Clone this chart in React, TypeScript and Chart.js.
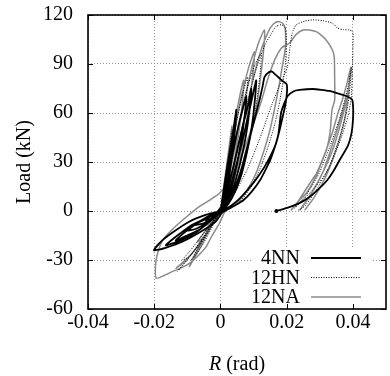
import React, { useEffect, useRef } from "react";
import { Chart, registerables } from "chart.js";

Chart.register(...registerables);

const xTicks = [-0.04, -0.02, 0, 0.02, 0.04];
const yTicks = [-60, -30, 0, 30, 60, 90, 120];
const seriesNames = ["4NN", "12HN", "12NA"];

// [R (rad), Load (kN)]
const curve4NN: [number, number][] = [
  [0, 0], [0.0008, 8], [0.0015, 17], [0.002, 24], [0.0017, 17], [0.001, 8], [0.0003, 2], [-0.001, -1], [-0.0025, -3], [-0.0015, -3], [-0.0005, -1], [0, 0],
  [0.0008, 10], [0.0018, 24], [0.0028, 36], [0.0035, 45], [0.0031, 35], [0.0022, 20], [0.0012, 8], [0.0002, 1], [-0.002, -2], [-0.0045, -5.5], [-0.003, -5], [-0.001, -2], [0.0003, 0],
  [0.0012, 12], [0.0025, 30], [0.0038, 48], [0.0048, 62], [0.0045, 52], [0.0036, 36], [0.0024, 18], [0.001, 5], [-0.001, -0.5], [-0.004, -3.5], [-0.0075, -8.5], [-0.005, -7.5], [-0.0025, -4.5], [0, -0.5],
  [0.0015, 12], [0.0032, 30], [0.0052, 50], [0.0068, 63], [0.0078, 70], [0.0073, 58], [0.0062, 42], [0.0045, 24], [0.0025, 9], [0.0005, 1], [-0.003, -3], [-0.006, -6], [-0.01, -12], [-0.0075, -11], [-0.004, -7], [-0.001, -2.5], [0.0005, 0],
  [0.002, 12], [0.004, 28], [0.0065, 50], [0.0085, 66], [0.0093, 75], [0.0088, 62], [0.0076, 45], [0.0058, 28], [0.0035, 12], [0.0012, 2], [-0.003, -3.5], [-0.008, -8.5], [-0.0135, -18], [-0.01, -15], [-0.006, -11], [-0.0025, -5], [0, -0.5],
  [0.0022, 10], [0.0045, 26], [0.007, 46], [0.009, 64], [0.0102, 75], [0.0108, 80], [0.0104, 68], [0.0095, 52], [0.008, 36], [0.006, 20], [0.0035, 8], [0.001, 1], [-0.004, -4], [-0.009, -9], [-0.0165, -21], [-0.012, -18], [-0.007, -12.5], [-0.003, -6], [0, -0.5],
  [0.002, 5], [0.0045, 15], [0.0065, 27], [0.0078, 37], [0.0095, 50], [0.0108, 60], [0.0118, 68], [0.0127, 76], [0.0133, 82], [0.0145, 84.8], [0.0156, 85.3], [0.0166, 83.5], [0.0175, 81.9], [0.0188, 79.5], [0.02, 77.6], [0.0201, 73], [0.0196, 65], [0.0188, 57.7], [0.0178, 49], [0.0168, 41.4], [0.0152, 34], [0.0133, 27], [0.0108, 19.5], [0.0082, 12.9], [0.006, 8], [0.0042, 4.7], [0.0015, 1], [-0.0015, -0.8], [-0.0045, -2.4], [-0.0096, -6.7], [-0.0147, -13.5], [-0.0178, -18.5], [-0.0201, -24], [-0.0185, -23.6], [-0.0166, -22.6], [-0.0117, -19], [-0.0066, -13.5], [-0.0015, -6.7], [0.0005, -1],
  [0.0018, 0.6], [0.0045, 3.5], [0.007, 6.7], [0.0095, 12], [0.012, 19], [0.0138, 26], [0.015, 31], [0.0164, 39], [0.0175, 47], [0.0183, 60], [0.0193, 66], [0.0203, 70.4], [0.022, 73.2], [0.0239, 74.1], [0.0279, 74.7], [0.0305, 74.2], [0.0329, 73.5], [0.0355, 72], [0.038, 70.4], [0.0398, 68], [0.0401, 62], [0.04, 55], [0.0396, 47.8], [0.0385, 40], [0.036, 31.2], [0.034, 24], [0.0323, 19], [0.0297, 13.5], [0.0269, 8.6], [0.024, 5], [0.0208, 2.4], [0.0169, 0],
];

const curve12HN: [number, number][] = [
  [0, 0], [0.001, 14], [0.002, 28], [0.003, 42], [0.0036, 50], [0.0033, 40], [0.0026, 26], [0.0016, 12], [0.0006, 3], [-0.001, -2], [-0.003, -8], [-0.0045, -12], [-0.003, -10], [-0.0012, -5], [0, -1],
  [0.0014, 14], [0.003, 34], [0.0048, 54], [0.0065, 70], [0.0082, 82], [0.0078, 68], [0.0068, 50], [0.0052, 32], [0.0032, 15], [0.0012, 4], [-0.001, -3], [-0.0035, -12], [-0.0065, -22], [-0.0088, -30], [-0.0075, -27], [-0.0052, -20], [-0.0028, -11], [-0.0008, -3], [0.0003, 0],
  [0.0018, 14], [0.0038, 35], [0.006, 58], [0.0085, 78], [0.0105, 90], [0.0123, 96.5], [0.012, 85], [0.011, 68], [0.0092, 48], [0.007, 28], [0.0045, 12], [0.002, 3], [0, 0], [-0.003, -9], [-0.0065, -20], [-0.01, -30], [-0.013, -37], [-0.0118, -34], [-0.009, -27], [-0.006, -19], [-0.003, -9], [-0.0005, -1],
  [0.0025, 14], [0.005, 36], [0.0075, 60], [0.0105, 85], [0.0135, 102], [0.0155, 109], [0.0168, 113], [0.0185, 114], [0.0196, 112], [0.0199, 104], [0.0197, 92], [0.019, 80], [0.018, 68], [0.0165, 54], [0.0145, 40], [0.012, 26], [0.009, 14], [0.006, 6], [0.003, 1.5], [0.0005, 0], [-0.0025, -7], [-0.006, -16], [-0.009, -24], [-0.0115, -30], [-0.0095, -28], [-0.0065, -21], [-0.0035, -12], [-0.001, -3],
  [0.004, 10], [0.008, 25], [0.012, 45], [0.0155, 65], [0.0185, 80], [0.0202, 88], [0.021, 100], [0.0217, 109], [0.0229, 114], [0.0255, 116.3], [0.0279, 117], [0.031, 116.5], [0.0339, 114.9], [0.0354, 111.9], [0.0372, 111], [0.039, 110.8], [0.04, 109.8], [0.04, 100], [0.0399, 89], [0.0395, 69], [0.0385, 58], [0.0365, 45], [0.035, 37], [0.0319, 23], [0.0269, 10.8], [0.0224, 1.8],
  [0.026, 10], [0.03, 24], [0.0335, 42], [0.0365, 60], [0.0385, 76], [0.0396, 88], [0.0385, 65], [0.036, 45], [0.033, 28], [0.029, 13], [0.0255, 3], [0.0235, 0.6],
];

const curve12NA: [number, number][] = [
  [0, 0], [0.001, 15], [0.002, 30], [0.003, 45], [0.0035, 52], [0.0032, 42], [0.0025, 28], [0.0015, 14], [0.0005, 4], [-0.001, -1], [-0.003, -5], [-0.005, -9], [-0.0035, -8], [-0.0015, -4], [0, -0.5],
  [0.0012, 14], [0.0028, 35], [0.0045, 56], [0.006, 72], [0.007, 80], [0.0067, 68], [0.0058, 52], [0.0045, 34], [0.003, 18], [0.0015, 6], [0, 0], [-0.002, -5], [-0.0045, -12], [-0.007, -19], [-0.0055, -17], [-0.003, -10], [-0.001, -3], [0.0003, 0],
  [0.0015, 15], [0.0035, 40], [0.0055, 62], [0.0075, 80], [0.009, 91], [0.0103, 97.5], [0.0099, 86], [0.009, 70], [0.0075, 50], [0.0055, 30], [0.003, 12], [0.001, 3], [-0.001, -3], [-0.003, -10], [-0.006, -20], [-0.0094, -34], [-0.0082, -30], [-0.006, -22], [-0.0035, -12], [-0.0012, -4], [0.0005, 1],
  [0.002, 15], [0.0045, 40], [0.007, 65], [0.0095, 88], [0.0115, 103], [0.0133, 110.8], [0.0131, 100], [0.0123, 85], [0.011, 65], [0.009, 45], [0.0065, 25], [0.0035, 9], [0.001, 1], [-0.002, -6], [-0.005, -16], [-0.009, -27], [-0.0134, -35], [-0.012, -33], [-0.009, -27], [-0.0055, -18], [-0.0025, -8], [0, -1],
  [0.0025, 12], [0.005, 35], [0.0075, 60], [0.01, 82], [0.0125, 100], [0.0145, 110], [0.016, 114.5], [0.0175, 116], [0.0188, 115], [0.0195, 112], [0.0197, 105], [0.0195, 98], [0.0188, 90], [0.0178, 78], [0.0165, 64], [0.015, 50], [0.013, 36], [0.0105, 22], [0.0075, 11], [0.0045, 4], [0.0015, 0], [-0.0003, -7.5], [-0.0025, -15], [-0.0043, -21.8], [-0.0068, -27.5], [-0.0094, -32], [-0.012, -35], [-0.0144, -37], [-0.017, -39.5], [-0.0194, -41.2], [-0.0196, -33], [-0.019, -26], [-0.0175, -18], [-0.0147, -11.6], [-0.0105, -4], [-0.0066, 2.4], [-0.003, 7], [-0.0003, 10.8],
  [0.003, 20], [0.006, 32], [0.009, 48], [0.012, 65], [0.0145, 82], [0.0165, 93], [0.0185, 100], [0.0208, 102.7], [0.0228, 108], [0.0249, 110.8], [0.0268, 110.8], [0.0289, 109.8], [0.0305, 107.5], [0.0319, 104.7], [0.0333, 100.6], [0.0341, 97], [0.0344, 93.5], [0.0345, 80], [0.0345, 68], [0.0337, 62], [0.0331, 48], [0.0321, 38], [0.0308, 31], [0.0293, 23], [0.0278, 17], [0.026, 11], [0.0239, 6.7], [0.0214, 0.6],
  [0.0235, 6], [0.027, 17], [0.029, 23], [0.0315, 35], [0.0338, 48], [0.0355, 60], [0.0368, 68], [0.0382, 78], [0.0394, 88], [0.0385, 72], [0.0365, 55], [0.034, 38], [0.031, 24], [0.0275, 11], [0.024, 0.6], [0.027, 9], [0.031, 24], [0.0345, 45], [0.037, 62], [0.0388, 75], [0.0375, 56], [0.035, 38], [0.032, 22], [0.0285, 9], [0.0255, 0.6],
];

const FONT = "Liberation Serif";

const legendStyles = [
  { color: "#000000", width: 2, dash: [] as number[] },
  { color: "#000000", width: 1, dash: [1, 1.5] },
  { color: "#8a8a8a", width: 1.6, dash: [] as number[] },
];

const framePlugin = {
  id: "frameLegend",
  afterDatasetsDraw(chart: any) {
    const { ctx, chartArea: ca, scales } = chart;
    const xs = scales.x;
    const ys = scales.y;
    ctx.save();
    // legend box
    ctx.fillStyle = "#ffffff";
    ctx.fillRect(ca.right - 133, ca.bottom - 62, 118, 62);
    ctx.font = `20px "${FONT}"`;
    ctx.textAlign = "right";
    ctx.textBaseline = "middle";
    seriesNames.forEach((name, i) => {
      const y = ca.bottom - 51 + i * 19.5;
      ctx.fillStyle = "#000";
      ctx.fillText(name, ca.right - 86, y + 1);
      const st = legendStyles[i];
      ctx.beginPath();
      ctx.setLineDash(st.dash);
      ctx.strokeStyle = st.color;
      ctx.lineWidth = st.width;
      ctx.moveTo(ca.right - 75, y);
      ctx.lineTo(ca.right - 25, y);
      ctx.stroke();
    });
    ctx.setLineDash([]);
    // inward tick marks
    ctx.strokeStyle = "#000";
    ctx.lineWidth = 1;
    const tl = 5;
    ctx.beginPath();
    xTicks.forEach((v) => {
      const x = Math.round(xs.getPixelForValue(v)) + 0.5;
      ctx.moveTo(x, ca.bottom);
      ctx.lineTo(x, ca.bottom - tl);
      ctx.moveTo(x, ca.top);
      ctx.lineTo(x, ca.top + tl);
    });
    yTicks.forEach((v) => {
      const y = Math.round(ys.getPixelForValue(v)) + 0.5;
      ctx.moveTo(ca.left, y);
      ctx.lineTo(ca.left + tl, y);
      ctx.moveTo(ca.right, y);
      ctx.lineTo(ca.right - tl, y);
    });
    ctx.stroke();
    // frame
    ctx.lineWidth = 1.6;
    ctx.strokeRect(ca.left, ca.top, ca.right - ca.left, ca.bottom - ca.top);
    // x-axis title with italic R
    const cx = (ca.left + ca.right) / 2;
    const ty = ca.bottom + 56;
    ctx.textBaseline = "middle";
    ctx.textAlign = "left";
    ctx.font = `italic 20px "${FONT}"`;
    const wR = ctx.measureText("R").width;
    ctx.font = `20px "${FONT}"`;
    const wRest = ctx.measureText(" (rad)").width;
    const x0 = cx - (wR + wRest) / 2;
    ctx.fillStyle = "#000";
    ctx.font = `italic 20px "${FONT}"`;
    ctx.fillText("R", x0, ty);
    ctx.font = `20px "${FONT}"`;
    ctx.fillText(" (rad)", x0 + wR, ty);
    ctx.restore();
  },
};

function toPoints(c: [number, number][]) {
  return c.map(([x, y]) => ({ x, y }));
}

export default function App() {
  const ref = useRef<HTMLCanvasElement | null>(null);
  useEffect(() => {
    if (!ref.current) return;
    const last4 = curve4NN.length - 1;
    const chart = new Chart(ref.current, {
      type: "line",
      data: {
        datasets: [
          {
            label: seriesNames[0],
            data: toPoints(curve4NN),
            borderColor: "#000",
            borderWidth: 1.8,
            pointRadius: (c: any) => (c.dataIndex === last4 ? 2 : 0),
            pointBackgroundColor: "#000",
            pointBorderWidth: 0,
            tension: 0.2,
            fill: false,
          },
          {
            label: seriesNames[1],
            data: toPoints(curve12HN),
            borderColor: "#000",
            borderWidth: 1,
            borderDash: [1, 1.5],
            pointRadius: 0,
            tension: 0.2,
            fill: false,
          },
          {
            label: seriesNames[2],
            data: toPoints(curve12NA),
            borderColor: "#8a8a8a",
            borderWidth: 1.5,
            pointRadius: 0,
            tension: 0.2,
            fill: false,
          },
        ],
      },
      options: {
        responsive: false,
        animation: false,
        events: [],
        layout: { padding: { top: 15, right: 3, left: 0, bottom: 0 } },
        plugins: { legend: { display: false }, tooltip: { enabled: false } },
        scales: {
          x: {
            type: "linear",
            min: -0.04,
            max: 0.05,
            afterBuildTicks: (s: any) => {
              s.ticks = xTicks.map((v) => ({ value: v }));
            },
            afterFit: (s: any) => {
              s.height = 67;
              s.paddingLeft = 0;
              s.paddingRight = 0;
            },
            ticks: {
              autoSkip: false,
              maxRotation: 0,
              padding: 2,
              color: "#000",
              font: { family: FONT, size: 20 },
              callback: (v: any) => String(Math.round(Number(v) * 1000) / 1000),
            },
            grid: { color: "#9a9a9a", lineWidth: 1, drawTicks: false },
            border: { display: false, dash: [1, 2] },
            title: { display: false },
          },
          y: {
            type: "linear",
            min: -60,
            max: 120,
            afterBuildTicks: (s: any) => {
              s.ticks = yTicks.map((v) => ({ value: v }));
            },
            afterFit: (s: any) => {
              s.width = 88;
              s.paddingTop = 0;
              s.paddingBottom = 0;
            },
            ticks: {
              padding: 15,
              color: "#000",
              font: { family: FONT, size: 20 },
              callback: (v: any) => String(v),
            },
            grid: { color: "#9a9a9a", lineWidth: 1, drawTicks: false },
            border: { display: false, dash: [1, 2] },
            title: {
              display: true,
              text: "Load (kN)",
              color: "#000",
              font: { family: FONT, size: 20 },
              padding: { top: 13, bottom: 0 },
            },
          },
        },
      },
      plugins: [framePlugin],
    } as any);
    return () => chart.destroy();
  }, []);
  return (
    <div style={{ position: "fixed", left: 0, top: 0, width: 390, height: 376, background: "#fff" }}>
      <canvas ref={ref} width={390} height={376} style={{ display: "block", width: 390, height: 376 }} />
    </div>
  );
}
